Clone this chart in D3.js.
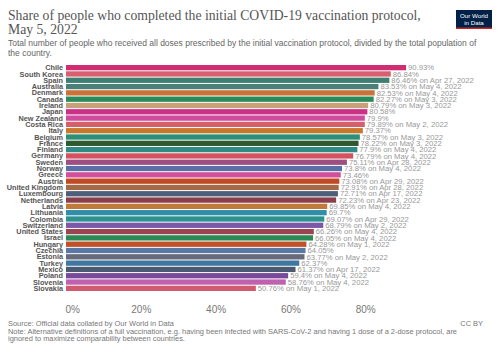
<!DOCTYPE html>
<html>
<head>
<meta charset="utf-8">
<script src="https://cdn.jsdelivr.net/npm/d3@7"></script>
<style>
  body { margin: 0; background: #fff; }
  svg { display: block; }
</style>
</head>
<body>
<div id="chart"></div>
<script>
// Countries, top to bottom
const countries = [
  'Chile', 'South Korea', 'Spain', 'Australia', 'Denmark', 'Canada', 'Ireland', 'Japan',
  'New Zealand', 'Costa Rica', 'Italy', 'Belgium', 'France', 'Finland', 'Germany', 'Sweden',
  'Norway', 'Greece', 'Austria', 'United Kingdom', 'Luxembourg', 'Netherlands', 'Latvia',
  'Lithuania', 'Colombia', 'Switzerland', 'United States', 'Israel', 'Hungary', 'Czechia',
  'Estonia', 'Turkey', 'Mexico', 'Poland', 'Slovenia', 'Slovakia'
];

// Share fully vaccinated, %
const shares = [
  90.93, 86.84, 86.46, 83.53, 82.53, 82.27, 80.79, 80.58,
  79.9, 79.89, 79.37, 78.57, 78.22, 77.9, 76.79, 75.11,
  73.8, 73.46, 73.08, 72.91, 72.71, 72.23, 69.85,
  69.7, 69.07, 68.79, 66.26, 66.05, 64.28, 64.05,
  63.77, 62.37, 61.37, 59.4, 58.76, 50.76
];

// Date of latest figure when it is not May 5 ('' = May 5)
const dates = [
  '', '', 'Apr 27, 2022', 'May 4, 2022', 'May 4, 2022', 'May 3, 2022', 'May 3, 2022', '',
  '', 'May 2, 2022', '', 'May 3, 2022', 'May 3, 2022', 'May 4, 2022', 'May 4, 2022', 'Apr 28, 2022',
  'May 4, 2022', '', 'Apr 29, 2022', 'Apr 28, 2022', 'Apr 17, 2022', 'Apr 23, 2022', 'May 4, 2022',
  '', 'Apr 29, 2022', 'May 2, 2022', 'May 4, 2022', 'May 4, 2022', 'May 1, 2022', '',
  'May 2, 2022', '', 'Apr 17, 2022', 'May 4, 2022', 'May 4, 2022', 'May 1, 2022'
];

const barColors = [
  '#cf2f72', '#d8606e', '#3f7f72', '#4a7f7a', '#c9733a', '#2a8a5a', '#c8a07a', '#cc2f86',
  '#d04a9e', '#d5606a', '#c8782e', '#2e8f78', '#2f5a2f', '#2f8c85', '#d6505f', '#9c4f80',
  '#5b6fa6', '#d24f9a', '#c04a24', '#a56a47', '#4e5f7c', '#8a3f4b', '#c07a3a',
  '#2f8fa8', '#2f9090', '#7b58a8', '#9b4553', '#2a8a55', '#c0502a', '#5a78a6',
  '#666a7a', '#3f77a0', '#4b5a70', '#7a4a9a', '#c060b0', '#d05a70'
];

const xTicks = [0, 20, 40, 60, 80];

const W = 500, H = 353;
const margin = { top: 64.5, left: 66, right: 500 - 66 - 374, bottom: H - 291.5 };

const svg = d3.select('#chart').append('svg')
  .attr('width', W)
  .attr('height', H);

// Shrink/grow a text element so it spans the given width
function fitText(sel, width) {
  const size = parseFloat(sel.attr('font-size'));
  const w = sel.node().getComputedTextLength();
  sel.attr('font-size', (size * width / w).toFixed(2));
}

// Title
const titleFont = "'Liberation Serif', 'DejaVu Serif', serif";
const t1 = svg.append('text')
  .attr('x', 8).attr('y', 20)
  .attr('font-family', titleFont).attr('font-size', 16).attr('fill', '#555')
  .text('Share of people who completed the initial COVID-19 vaccination protocol,');
fitText(t1, 413);
svg.append('text')
  .attr('x', 8).attr('y', 34)
  .attr('font-family', titleFont).attr('font-size', t1.attr('font-size')).attr('fill', '#555')
  .text('May 5, 2022');

// Subtitle
const sansFont = "'Liberation Sans', Arial, sans-serif";
const s1 = svg.append('text')
  .attr('x', 8).attr('y', 46)
  .attr('font-family', sansFont).attr('font-size', 9).attr('fill', '#666')
  .text('Total number of people who received all doses prescribed by the initial vaccination protocol, divided by the total population of');
fitText(s1, 469);
svg.append('text')
  .attr('x', 8).attr('y', 55.5)
  .attr('font-family', sansFont).attr('font-size', s1.attr('font-size')).attr('fill', '#666')
  .text('the country.');

// Logo
const logo = svg.append('g').attr('transform', 'translate(456,10)');
logo.append('rect').attr('width', 36).attr('height', 19).attr('fill', '#002147');
logo.append('rect').attr('y', 17.5).attr('width', 36).attr('height', 1.5).attr('fill', '#ce261e');
logo.append('text').attr('x', 18).attr('y', 8)
  .attr('text-anchor', 'middle').attr('font-family', sansFont).attr('font-size', 6.2).attr('fill', '#fff')
  .text('Our World');
logo.append('text').attr('x', 18).attr('y', 14.5)
  .attr('text-anchor', 'middle').attr('font-family', sansFont).attr('font-size', 6.2).attr('fill', '#fff')
  .text('in Data');

// Scales
const x = d3.scaleLinear()
  .domain([0, 100])
  .range([margin.left, margin.left + 374]);

const y = d3.scaleBand()
  .domain(countries)
  .range([margin.top, H - margin.bottom])
  .paddingInner(0.16)
  .paddingOuter(0.08);

const rows = countries.map((c, i) => ({ country: c, share: shares[i], date: dates[i], color: barColors[i] }));

// Bars
svg.append('g').selectAll('rect')
  .data(rows)
  .join('rect')
  .attr('x', x(0))
  .attr('y', d => y(d.country))
  .attr('width', d => x(d.share) - x(0))
  .attr('height', y.bandwidth())
  .attr('fill', d => d.color);

// Country labels
svg.append('g').selectAll('text')
  .data(rows)
  .join('text')
  .attr('x', x(0) - 3)
  .attr('y', d => y(d.country) + y.bandwidth() / 2)
  .attr('dy', '0.35em')
  .attr('text-anchor', 'end')
  .attr('font-family', sansFont)
  .attr('font-weight', 'bold')
  .attr('font-size', 7.3)
  .attr('fill', '#555')
  .text(d => d.country);

// Value labels
svg.append('g').selectAll('text')
  .data(rows)
  .join('text')
  .attr('x', d => x(d.share) + 2)
  .attr('y', d => y(d.country) + y.bandwidth() / 2)
  .attr('dy', '0.35em')
  .attr('font-family', sansFont)
  .attr('font-size', 7.7)
  .attr('fill', '#999')
  .text(d => d3.format('')(d.share) + '%' + (d.date ? ' on ' + d.date : ''));

// X axis
const xAxis = svg.append('g')
  .attr('transform', `translate(0,${H - margin.bottom})`)
  .call(d3.axisBottom(x).tickValues(xTicks).tickFormat(d => d + '%').tickSize(0).tickPadding(14));
xAxis.select('.domain').remove();
xAxis.selectAll('text')
  .attr('font-family', sansFont)
  .attr('font-size', 10)
  .attr('fill', '#777');
xAxis.selectAll('.tick').filter(d => d === 0).select('text').attr('text-anchor', 'start').attr('dx', -1);

// Footer
const f1 = svg.append('text')
  .attr('x', 8).attr('y', 326)
  .attr('font-family', sansFont).attr('font-size', 7.3).attr('fill', '#777')
  .text('Source: Official data collated by Our World in Data');
const f2 = svg.append('text')
  .attr('x', 8).attr('y', 333.5)
  .attr('font-family', sansFont).attr('font-size', 7.3).attr('fill', '#777')
  .text('Note: Alternative definitions of a full vaccination, e.g. having been infected with SARS-CoV-2 and having 1 dose of a 2-dose protocol, are');
fitText(f2, 449);
f1.attr('font-size', f2.attr('font-size'));
svg.append('text')
  .attr('x', 8).attr('y', 341)
  .attr('font-family', sansFont).attr('font-size', f2.attr('font-size')).attr('fill', '#777')
  .text('ignored to maximize comparability between countries.');
svg.append('text')
  .attr('x', 483).attr('y', 326)
  .attr('text-anchor', 'end')
  .attr('font-family', sansFont).attr('font-size', f2.attr('font-size')).attr('fill', '#777')
  .text('CC BY');
</script>
</body>
</html>
